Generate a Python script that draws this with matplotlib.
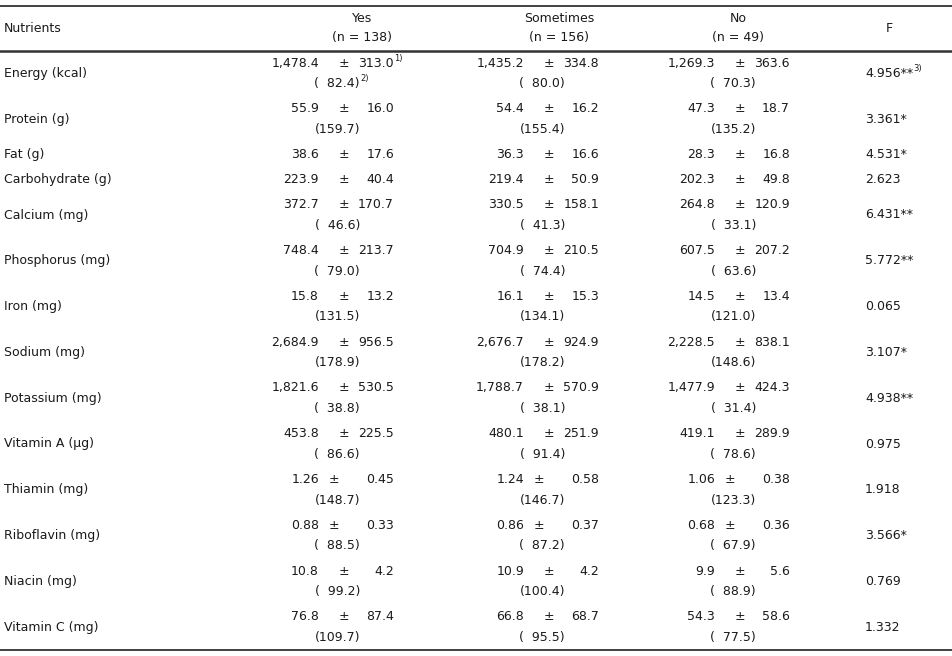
import matplotlib
matplotlib.use("Agg")
import matplotlib.pyplot as plt

nutrients = ['Energy (kcal)', 'Protein (g)', 'Fat (g)', 'Carbohydrate (g)', 'Calcium (mg)',
             'Phosphorus (mg)', 'Iron (mg)', 'Sodium (mg)', 'Potassium (mg)', 'Vitamin A (\u03bcg)',
             'Thiamin (mg)', 'Riboflavin (mg)', 'Niacin (mg)', 'Vitamin C (mg)']

groups = ['Yes', 'Sometimes', 'No']
group_n = [138, 156, 49]

yes_mean = ['1,478.4', '55.9', '38.6', '223.9', '372.7', '748.4', '15.8', '2,684.9', '1,821.6',
            '453.8', '1.26', '0.88', '10.8', '76.8']
yes_sd = ['313.0', '16.0', '17.6', '40.4', '170.7', '213.7', '13.2', '956.5', '530.5',
          '225.5', '0.45', '0.33', '4.2', '87.4']
yes_pct = [82.4, 159.7, None, None, 46.6, 79.0, 131.5, 178.9, 38.8, 86.6, 148.7, 88.5, 99.2, 109.7]

some_mean = ['1,435.2', '54.4', '36.3', '219.4', '330.5', '704.9', '16.1', '2,676.7', '1,788.7',
             '480.1', '1.24', '0.86', '10.9', '66.8']
some_sd = ['334.8', '16.2', '16.6', '50.9', '158.1', '210.5', '15.3', '924.9', '570.9',
           '251.9', '0.58', '0.37', '4.2', '68.7']
some_pct = [80.0, 155.4, None, None, 41.3, 74.4, 134.1, 178.2, 38.1, 91.4, 146.7, 87.2, 100.4, 95.5]

no_mean = ['1,269.3', '47.3', '28.3', '202.3', '264.8', '607.5', '14.5', '2,228.5', '1,477.9',
           '419.1', '1.06', '0.68', '9.9', '54.3']
no_sd = ['363.6', '18.7', '16.8', '49.8', '120.9', '207.2', '13.4', '838.1', '424.3',
         '289.9', '0.38', '0.36', '5.6', '58.6']
no_pct = [70.3, 135.2, None, None, 33.1, 63.6, 121.0, 148.6, 31.4, 78.6, 123.3, 67.9, 88.9, 77.5]

f_values = ['4.956**', '3.361*', '4.531*', '2.623', '6.431**', '5.772**', '0.065', '3.107*',
            '4.938**', '0.975', '1.918', '3.566*', '0.769', '1.332']

W, H = 952, 656
fig = plt.figure(figsize=(W / 100, H / 100), dpi=100)
ax = fig.add_axes([0, 0, 1, 1])
ax.set_xlim(0, W)
ax.set_ylim(H, 0)
ax.axis('off')

fs = 9
col = '#1a1a1a'
lc = '#333333'

# header
ax.plot([0, W], [6, 6], color=lc, lw=1.3)
ax.plot([0, W], [50.5, 50.5], color=lc, lw=1.8)
ax.text(4, 28, 'Nutrients', fontsize=fs, color=col, va='center', ha='left')
head_x = [362, 559, 738]
for g, n, hx in zip(groups, group_n, head_x):
    ax.text(hx, 18, g, fontsize=fs, color=col, va='center', ha='center')
    ax.text(hx, 38, '(n = %d)' % n, fontsize=fs, color=col, va='center', ha='center')
ax.text(889, 28, 'F', fontsize=fs, color=col, va='center', ha='center')

# column offsets (Yes, Sometimes, No)
offsets = [0, 205, 396]
mean_r, pm_x, pm_x2, sd_r, pct_r = 319, 344, 334, 394, 360
f_x = 865

means = [yes_mean, some_mean, no_mean]
sds = [yes_sd, some_sd, no_sd]
pcts = [yes_pct, some_pct, no_pct]

fig.canvas.draw()
renderer = fig.canvas.get_renderer()


def sup(t, label, dy=-5):
    bb = t.get_window_extent(renderer)
    x1 = ax.transData.inverted().transform((bb.x1, bb.y1))[0]
    y = t.get_position()[1]
    ax.text(x1 + 0.5, y + dy, label, fontsize=6, color=col, va='center', ha='left')


h2, h1, line_gap = 45.8, 25.0, 20.5
top = 50.5
for i, name in enumerate(nutrients):
    two = yes_pct[i] is not None
    h = h2 if two else h1
    yc = top + h / 2
    ax.text(4, yc, name, fontsize=fs, color=col, va='center', ha='left')
    y1 = yc - line_gap / 2 if two else yc
    for k in range(3):
        off = offsets[k]
        m = means[k][i]
        ax.text(mean_r + off, y1, m, fontsize=fs, color=col, va='center', ha='right')
        px = pm_x2 if len(m.split('.')[1]) == 2 else pm_x
        ax.text(px + off, y1, '\u00b1', fontsize=fs, color=col, va='center', ha='center')
        t = ax.text(sd_r + off, y1, sds[k][i], fontsize=fs, color=col, va='center', ha='right')
        if i == 0 and k == 0:
            sup(t, '1)')
        if two:
            p = pcts[k][i]
            s = '(%5.1f)' % p
            if p < 100:
                s = '(  %.1f)' % p
            t2 = ax.text(pct_r + off, y1 + line_gap, s, fontsize=fs, color=col,
                         va='center', ha='right')
            if i == 0 and k == 0:
                sup(t2, '2)')
    tf = ax.text(f_x, yc, f_values[i], fontsize=fs, color=col, va='center', ha='left')
    if i == 0:
        sup(tf, '3)')
    top += h

ax.plot([0, W], [top, top], color=lc, lw=1.3)

fig.savefig('out.png', dpi=100)
